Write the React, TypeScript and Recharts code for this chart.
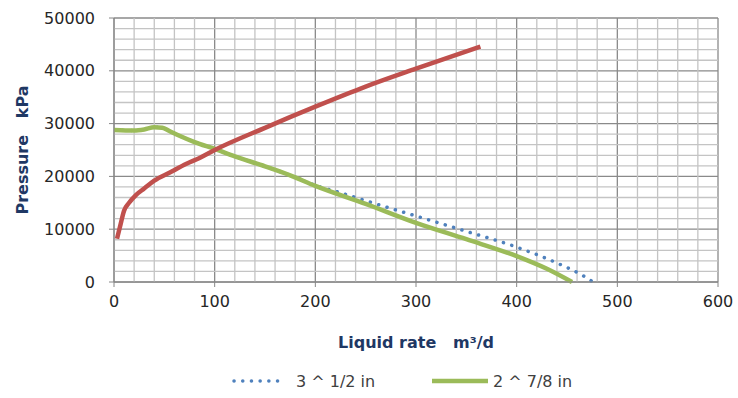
import { LineChart, Line, XAxis, YAxis, CartesianGrid, Legend, ReferenceLine } from 'recharts';

const xTicks = [0, 100, 200, 300, 400, 500, 600];
const yTicks = [0, 10000, 20000, 30000, 40000, 50000];
const xMinor = [20, 40, 60, 80, 120, 140, 160, 180, 220, 240, 260, 280, 320, 340, 360, 380, 420, 440, 460, 480, 520, 540, 560, 580];
const yMinor = [2000, 4000, 6000, 8000, 12000, 14000, 16000, 18000, 22000, 24000, 26000, 28000, 32000, 34000, 36000, 38000, 42000, 44000, 46000, 48000];

// 3 1/2 in tubing (dotted blue)
const rateBlue = [0, 20, 30, 40, 48, 55, 65, 80, 100, 120, 150, 175, 200, 225, 250, 300, 350, 400, 440, 465, 476];
const pressBlue = [28800, 28700, 28900, 29300, 29200, 28600, 27700, 26500, 25200, 23800, 21900, 20200, 18300, 16900, 15400, 12500, 9600, 6600, 3600, 1300, 0];

// 2 7/8 in tubing (green)
const rateGreen = [0, 20, 30, 40, 48, 55, 65, 80, 100, 120, 150, 175, 200, 250, 300, 350, 400, 430, 455];
const pressGreen = [28800, 28700, 28900, 29300, 29200, 28600, 27700, 26500, 25200, 23800, 21900, 20200, 18200, 14800, 11200, 8100, 4900, 2500, 0];

// inflow curve (red)
const rateRed = [3, 6, 10, 15, 22, 30, 40, 55, 72, 85, 100, 150, 200, 250, 300, 364];
const pressRed = [8200, 10500, 13500, 15000, 16500, 17700, 19200, 20700, 22400, 23500, 25000, 29200, 33200, 37000, 40400, 44600];

const toRows = (xs: number[], ys: number[]) => xs.map((x, i) => ({ x, y: ys[i] }));

const blueData = toRows(rateBlue, pressBlue);
const greenData = toRows(rateGreen, pressGreen);
const redData = toRows(rateRed, pressRed);

const titleColor = '#1F3864';
const tickColor = '#262626';
const font = 'DejaVu Sans';
const minorColor = '#c4c4c4';

function ChartLegend() {
  return (
    <svg width={738} height={41} style={{ display: 'block' }}>
      <line x1={234} y1={24} x2={285} y2={24} stroke="#4F81BD" strokeWidth={3.5} strokeDasharray="0.1 8.6" strokeLinecap="round" />
      <text x={296} y={24} dy="0.36em" fontFamily={font} fontSize={16} fill="#404040">3 ^ 1/2 in</text>
      <line x1={432} y1={24} x2={488} y2={24} stroke="#9BBB59" strokeWidth={4.5} />
      <text x={493} y={24} dy="0.36em" fontFamily={font} fontSize={16} fill="#404040">2 ^ 7/8 in</text>
    </svg>
  );
}

export default function App() {
  return (
    <div style={{ position: 'absolute', left: 0, top: 0, background: '#fff' }}>
      <LineChart width={738} height={398} margin={{ top: 18, right: 20, left: 0, bottom: 0 }}>
        {xMinor.map((v) => (
          <ReferenceLine key={`vx-${v}`} x={v} stroke={minorColor} strokeWidth={1.3} />
        ))}
        {yMinor.map((v) => (
          <ReferenceLine key={`hy-${v}`} y={v} stroke={minorColor} strokeWidth={1.3} />
        ))}
        <CartesianGrid stroke="#8a8a8a" strokeWidth={1.3} />
        <XAxis
          type="number"
          dataKey="x"
          domain={[0, 600]}
          ticks={xTicks}
          allowDataOverflow
          height={75}
          tickSize={5}
          tickMargin={9}
          stroke="#868686"
          tick={{ fill: tickColor, fontFamily: font, fontSize: 16 }}
          label={({ viewBox }: any) => (
            <text
              x={viewBox.x + viewBox.width / 2}
              y={348}
              textAnchor="middle"
              fontFamily={font}
              fontSize={16}
              fontWeight="bold"
              fill={titleColor}
              style={{ whiteSpace: 'pre' }}
            >
              {'Liquid rate   m³/d'}
            </text>
          )}
        />
        <YAxis
          type="number"
          dataKey="y"
          domain={[0, 50000]}
          ticks={yTicks}
          width={114}
          tickSize={5}
          tickMargin={14}
          stroke="#868686"
          tick={{ fill: tickColor, fontFamily: font, fontSize: 16 }}
          label={({ viewBox }: any) => (
            <text
              x={0}
              y={0}
              transform={`translate(28, ${viewBox.y + viewBox.height / 2}) rotate(-90)`}
              textAnchor="middle"
              fontFamily={font}
              fontSize={16}
              fontWeight="bold"
              fill={titleColor}
              style={{ whiteSpace: 'pre' }}
            >
              {'Pressure   kPa'}
            </text>
          )}
        />
        <Legend verticalAlign="bottom" height={41} wrapperStyle={{ left: 0, width: 738 }} content={() => <ChartLegend />} />
        <Line
          data={blueData}
          dataKey="y"
          name="3 ^ 1/2 in"
          type="monotone"
          stroke="#4F81BD"
          strokeWidth={3.5}
          strokeDasharray="0.1 8.6"
          strokeLinecap="round"
          dot={false}
          activeDot={false}
          isAnimationActive={false}
        />
        <Line
          data={greenData}
          dataKey="y"
          name="2 ^ 7/8 in"
          type="monotone"
          stroke="#9BBB59"
          strokeWidth={4.5}
          dot={false}
          activeDot={false}
          isAnimationActive={false}
        />
        <Line
          data={redData}
          dataKey="y"
          name="inflow"
          type="monotone"
          stroke="#C0504D"
          strokeWidth={4.5}
          dot={false}
          activeDot={false}
          legendType="none"
          isAnimationActive={false}
        />
      </LineChart>
    </div>
  );
}
